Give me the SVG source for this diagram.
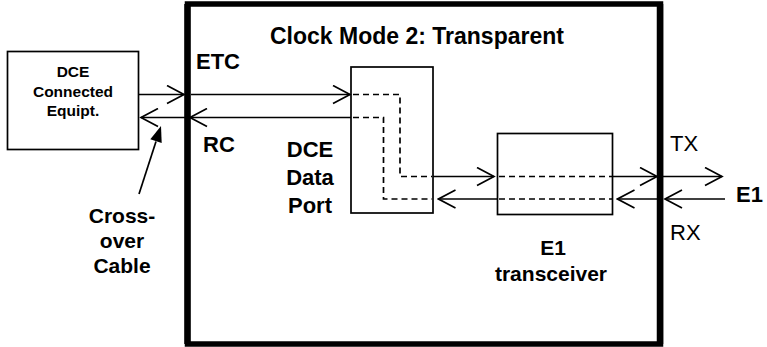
<svg xmlns="http://www.w3.org/2000/svg" width="767" height="347" viewBox="0 0 767 347">
<style>
.box{fill:#fff;stroke:#000;stroke-width:1.7}
.frame{fill:none;stroke:#000;stroke-width:5.5}
.bar{stroke:#000;stroke-width:6.5}
.ln{fill:none;stroke:#000;stroke-width:1.7}
.arr{fill:none;stroke:#000;stroke-width:1.7;marker-end:url(#open)}
.dash{fill:none;stroke:#000;stroke-width:1.7;stroke-dasharray:6 4}
.t{font-family:"Liberation Sans",Arial,sans-serif;fill:#000}
.b{font-weight:bold}
</style>
<defs>
<marker id="open" markerWidth="20" markerHeight="20" refX="18" refY="10" orient="auto" markerUnits="userSpaceOnUse" viewBox="0 0 20 20">
<path d="M1,1 L18,10 L1,19" fill="none" stroke="#000" stroke-width="1.7"/>
</marker>
</defs>
<rect width="767" height="347" fill="#fff"/>
<g id="frame">
<rect class="frame" x="187.5" y="4" width="473" height="340"/>
<text class="t b" x="270" y="44" font-size="23">Clock Mode 2: Transparent</text>
</g>
<g id="dce-equipment">
<rect class="box" x="7.5" y="51.5" width="131" height="98"/>
<text class="t b" font-size="15.5" text-anchor="middle"><tspan x="73" y="77">DCE</tspan><tspan x="73" y="97">Connected</tspan><tspan x="73" y="116">Equipt.</tspan></text>
</g>
<g id="dce-data-port">
<rect class="box" x="351" y="67" width="82" height="146"/>
<text class="t b" font-size="22" text-anchor="middle"><tspan x="310" y="157">DCE</tspan><tspan x="310" y="185">Data</tspan><tspan x="310" y="213">Port</tspan></text>
</g>
<g id="e1-transceiver">
<rect class="box" x="497.5" y="133.5" width="115" height="81"/>
<text class="t b" font-size="21" text-anchor="middle"><tspan x="553" y="255">E1</tspan><tspan x="551" y="281">transceiver</tspan></text>
</g>
<g id="connectors">
<line class="arr" x1="139" y1="94.5" x2="184" y2="94.5"/>
<line class="arr" x1="191" y1="94.5" x2="350" y2="94.5"/>
<polyline class="dash" points="353,94.5 400,94.5 400,176.5 432,176.5"/>
<line class="arr" x1="433" y1="176.5" x2="494" y2="176.5"/>
<line class="dash" x1="499" y1="176.5" x2="612" y2="176.5"/>
<line class="arr" x1="613" y1="176.5" x2="657" y2="176.5"/>
<line class="arr" x1="663" y1="176.5" x2="722" y2="176.5"/>
<line class="arr" x1="351" y1="117.5" x2="190" y2="117.5"/>
<line class="arr" x1="190" y1="117.5" x2="141" y2="117.5"/>
<polyline class="dash" points="353,117.5 383.5,117.5 383.5,199 432,199"/>
<line class="arr" x1="497" y1="199" x2="438.5" y2="199"/>
<line class="dash" x1="499" y1="199" x2="612" y2="199"/>
<line class="arr" x1="657" y1="199" x2="617.5" y2="199"/>
<line class="arr" x1="725" y1="199" x2="665" y2="199"/>
<line class="ln" x1="139" y1="194" x2="156" y2="141.5"/>
<polygon points="161,126 150.3,139.3 161.7,143.1" fill="#000"/>
</g>
<g id="bars">
<line class="bar" x1="187.5" y1="4" x2="187.5" y2="344"/>
<line class="bar" x1="660" y1="4" x2="660" y2="344"/>
</g>
<g id="labels">
<text class="t b" x="196" y="69" font-size="22">ETC</text>
<text class="t b" x="203" y="152" font-size="22">RC</text>
<text class="t b" font-size="21" text-anchor="middle"><tspan x="122" y="223">Cross-</tspan><tspan x="122" y="248">over</tspan><tspan x="122" y="273">Cable</tspan></text>
<text class="t" x="670" y="151" font-size="22">TX</text>
<text class="t" x="670" y="240" font-size="22">RX</text>
<text class="t b" x="736" y="202" font-size="22">E1</text>
</g>
</svg>
